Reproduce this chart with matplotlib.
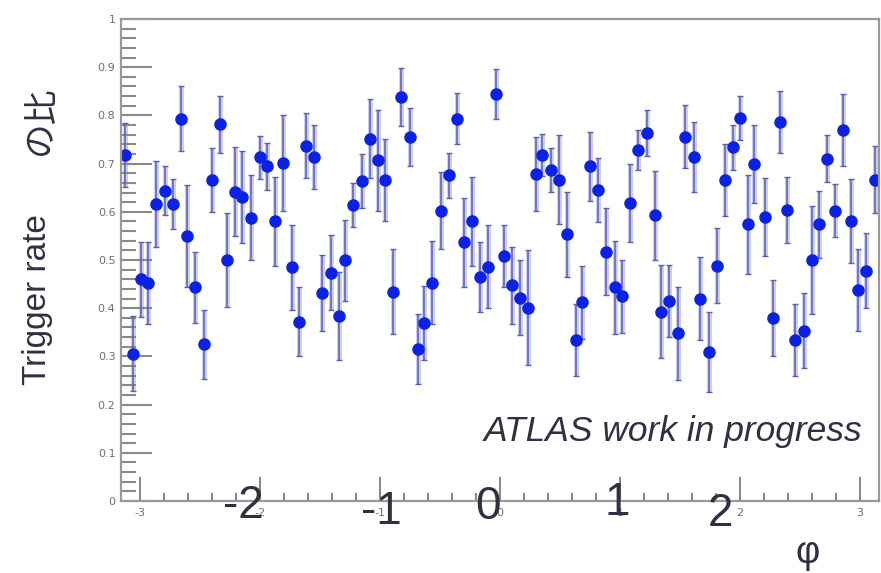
import numpy as np
import matplotlib.pyplot as plt
from matplotlib.ticker import MultipleLocator, FuncFormatter

# phi position, trigger rate ratio and its error
phi = [-3.128, -3.058, -2.989, -2.933, -2.864, -2.794, -2.725, -2.661, -2.606, -2.539,
       -2.467, -2.397, -2.331, -2.275, -2.211, -2.150, -2.075, -2.000, -1.944, -1.875,
       -1.806, -1.736, -1.672, -1.617, -1.547, -1.481, -1.411, -1.344, -1.289, -1.222,
       -1.153, -1.086, -1.017, -0.961, -0.892, -0.822, -0.753, -0.686, -0.631, -0.564,
       -0.494, -0.425, -0.356, -0.300, -0.233, -0.167, -0.100, -0.033, 0.031, 0.097,
       0.164, 0.233, 0.297, 0.347, 0.422, 0.492, 0.561, 0.631, 0.686, 0.750,
       0.819, 0.886, 0.958, 1.014, 1.083, 1.153, 1.222, 1.292, 1.342, 1.411,
       1.481, 1.544, 1.614, 1.669, 1.739, 1.806, 1.875, 1.944, 2.003, 2.069,
       2.119, 2.206, 2.275, 2.331, 2.394, 2.461, 2.531, 2.600, 2.658, 2.725,
       2.789, 2.858, 2.928, 2.986, 3.053, 3.125]
rate = [0.718, 0.306, 0.460, 0.452, 0.616, 0.644, 0.616, 0.793, 0.550, 0.443,
        0.325, 0.666, 0.782, 0.500, 0.642, 0.631, 0.588, 0.713, 0.694, 0.580,
        0.701, 0.485, 0.372, 0.737, 0.714, 0.431, 0.474, 0.384, 0.499, 0.614,
        0.664, 0.752, 0.707, 0.666, 0.434, 0.839, 0.756, 0.315, 0.370, 0.453,
        0.602, 0.676, 0.793, 0.537, 0.580, 0.465, 0.486, 0.844, 0.508, 0.448,
        0.422, 0.401, 0.678, 0.718, 0.687, 0.667, 0.553, 0.334, 0.412, 0.694,
        0.645, 0.517, 0.443, 0.425, 0.618, 0.728, 0.763, 0.593, 0.393, 0.415,
        0.348, 0.756, 0.714, 0.420, 0.310, 0.488, 0.666, 0.734, 0.794, 0.574,
        0.700, 0.590, 0.379, 0.786, 0.604, 0.334, 0.353, 0.500, 0.574, 0.710,
        0.602, 0.770, 0.581, 0.438, 0.478, 0.667]
err = [0.066, 0.077, 0.078, 0.085, 0.090, 0.050, 0.052, 0.067, 0.105, 0.074,
       0.072, 0.067, 0.059, 0.097, 0.092, 0.095, 0.088, 0.045, 0.049, 0.093,
       0.099, 0.088, 0.071, 0.067, 0.066, 0.079, 0.078, 0.092, 0.085, 0.045,
       0.056, 0.082, 0.105, 0.085, 0.088, 0.060, 0.060, 0.073, 0.077, 0.086,
       0.080, 0.047, 0.053, 0.092, 0.093, 0.073, 0.086, 0.052, 0.065, 0.080,
       0.078, 0.119, 0.077, 0.044, 0.046, 0.092, 0.089, 0.074, 0.075, 0.072,
       0.067, 0.090, 0.096, 0.076, 0.081, 0.042, 0.048, 0.092, 0.097, 0.074,
       0.097, 0.065, 0.073, 0.086, 0.083, 0.078, 0.074, 0.047, 0.046, 0.103,
       0.081, 0.081, 0.079, 0.064, 0.069, 0.075, 0.078, 0.111, 0.070, 0.049,
       0.055, 0.074, 0.087, 0.085, 0.077, 0.070]

big_ticks = [-2, -1, 0, 1, 2]

W, H = 881, 573
fig = plt.figure(figsize=(W / 100, H / 100), dpi=100)
ax = fig.add_axes([121 / W, 1 - 501 / H, (879 - 121) / W, (501 - 19) / H])

# light halo under the error bars, then the bars themselves
ax.errorbar(phi, rate, yerr=err, fmt='none', ecolor='#c9ccf2', elinewidth=3.5, zorder=1)
ax.errorbar(phi, rate, yerr=err, fmt='o', color='#0b22e6', markersize=8,
            ecolor='#5d5fae', elinewidth=1.1, capsize=2, capthick=1.0, zorder=2)

ax.set_xlim(-3.158, 3.158)
ax.set_ylim(0, 1)

ax.xaxis.set_major_locator(MultipleLocator(1))
ax.xaxis.set_minor_locator(MultipleLocator(0.2))
ax.yaxis.set_major_locator(MultipleLocator(0.1))
ax.yaxis.set_minor_locator(MultipleLocator(0.02))
ax.yaxis.set_major_formatter(FuncFormatter(lambda v, p: f"{v:g}"))
ax.xaxis.set_major_formatter(FuncFormatter(lambda v, p: f"{v:g}"))

ax.tick_params(axis='both', which='both', direction='in', colors='#8a8a8a',
               labelcolor='#6e6e6e', labelsize=8, width=1.5)
ax.tick_params(axis='y', which='major', length=22, pad=4)
ax.tick_params(axis='y', which='minor', length=11)
ax.tick_params(axis='x', which='major', length=17, pad=5)
ax.tick_params(axis='x', which='minor', length=6)
ax.tick_params(top=False, right=False, which='both')

for s in ax.spines.values():
    s.set_color('#9a9a9a')
    s.set_linewidth(1.6)

# big overlaid axis numbers
dark = '#2e3142'
big_pos = {-2: (243, 506), -1: (381, 512), 0: (488, 507), 1: (617, 503), 2: (720, 514)}
for t in big_ticks:
    px, py = big_pos[t]
    fig.text(px / W, 1 - py / H, str(t), fontsize=33, color=dark,
             family='Liberation Sans', ha='center', va='center')
fig.text(808 / W, 1 - 553 / H, 'φ', fontsize=27, color=dark,
         family='Liberation Sans', ha='center', va='center')

fig.text(862 / W, 1 - 431 / H, 'ATLAS work in progress', fontsize=25.5,
         style='italic', color=dark, family='Liberation Sans',
         ha='right', va='center')

fig.text(38 / W, 1 - 300 / H, 'Trigger rate', fontsize=24, color=dark,
         family='Liberation Sans', rotation=90, ha='center', va='center')
fig.text(40 / W, 1 - 120 / H, 'の比', fontsize=25, color=dark,
         family=['Noto Sans CJK JP', 'DejaVu Sans'], rotation=90,
         ha='center', va='center')

fig.savefig('out.png', dpi=100)
